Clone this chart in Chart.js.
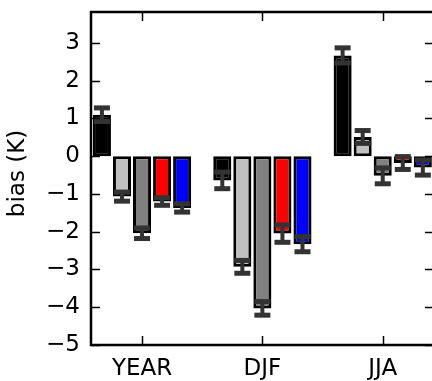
<!DOCTYPE html>
<html>
<head>
<meta charset="utf-8">
<script src="https://cdn.jsdelivr.net/npm/chart.js@4/dist/chart.umd.min.js"></script>
<style>
  html, body { margin: 0; padding: 0; overflow: hidden; background: #fff; }
  #wrap { width: 444px; height: 381px; position: relative; }
</style>
</head>
<body>
<div id="wrap"><canvas id="c"></canvas></div>
<script>
// Seasonal temperature bias for five experiments
const categories = ['YEAR', 'DJF', 'JJA'];
const yTicks = [-5, -4, -3, -2, -1, 0, 1, 2, 3];
const yLabel = 'bias (K)';

const expA = [1.10, -0.64, 2.67];
const expAErr = [0.18, 0.22, 0.20];
const expB = [-1.07, -2.93, 0.51];
const expBErr = [0.12, 0.17, 0.17];
const expC = [-2.04, -4.03, -0.52];
const expCErr = [0.14, 0.18, 0.21];
const expD = [-1.20, -2.05, -0.18];
const expDErr = [0.10, 0.23, 0.17];
const expE = [-1.37, -2.33, -0.30];
const expEErr = [0.11, 0.20, 0.20];

const series = [
  { name: 'A', values: expA, err: expAErr, color: '#000000' },
  { name: 'B', values: expB, err: expBErr, color: '#c0c0c0' },
  { name: 'C', values: expC, err: expCErr, color: '#808080' },
  { name: 'D', values: expD, err: expDErr, color: '#ff0000' },
  { name: 'E', values: expE, err: expEErr, color: '#0000ff' }
];

const FONT = 'DejaVu Sans';

// Box frame, inward ticks on all four sides, error bars and the axis label
const framePlugin = {
  id: 'frame',
  afterDatasetsDraw(chart) {
    const ctx = chart.ctx;
    const ys = chart.scales.y;
    ctx.save();
    ctx.fillStyle = '#333333';
    ctx.strokeStyle = '#333333';
    series.forEach((s, d) => {
      const meta = chart.getDatasetMeta(d);
      meta.data.forEach((bar, i) => {
        const x = bar.x;
        const hi = ys.getPixelForValue(s.values[i] + s.err[i]);
        const lo = ys.getPixelForValue(s.values[i] - s.err[i]);
        ctx.lineWidth = 4;
        ctx.beginPath();
        ctx.moveTo(x, hi);
        ctx.lineTo(x, lo);
        ctx.stroke();
        ctx.fillRect(x - 8, hi - 2.5, 16, 5);
        ctx.fillRect(x - 8, lo - 2.5, 16, 5);
      });
    });
    ctx.restore();
  },
  afterDraw(chart) {
    const ctx = chart.ctx;
    const a = chart.chartArea;
    const xs = chart.scales.x, ys = chart.scales.y;
    const tl = 9;
    ctx.save();
    ctx.strokeStyle = '#000';
    ctx.lineWidth = 1.5;
    ys.ticks.forEach(t => {
      const y = Math.round(ys.getPixelForValue(t.value)) + 0.5;
      ctx.beginPath();
      ctx.moveTo(a.left, y); ctx.lineTo(a.left + tl, y);
      ctx.moveTo(a.right, y); ctx.lineTo(a.right - tl, y);
      ctx.stroke();
    });
    xs.ticks.forEach(t => {
      const x = Math.round(xs.getPixelForValue(t.value)) + 0.5;
      ctx.beginPath();
      ctx.moveTo(x, a.bottom); ctx.lineTo(x, a.bottom - tl);
      ctx.moveTo(x, a.top); ctx.lineTo(x, a.top + tl);
      ctx.stroke();
    });
    ctx.lineWidth = 2.5;
    ctx.strokeRect(a.left, a.top, a.right - a.left, a.bottom - a.top);

    // rotated y-axis label
    ctx.translate(18, (a.top + a.bottom) / 2 - 5);
    ctx.rotate(-Math.PI / 2);
    ctx.fillStyle = '#000';
    ctx.font = '23px "' + FONT + '"';
    ctx.textAlign = 'center';
    ctx.textBaseline = 'middle';
    ctx.fillText(yLabel, 0, 0);
    ctx.restore();
  }
};

new Chart(document.getElementById('c'), {
  type: 'bar',
  data: {
    datasets: series.map(s => ({
      label: s.name,
      data: categories.map((c, i) => ({ x: i, y: s.values[i] })),
      backgroundColor: s.color,
      borderColor: '#000000',
      borderWidth: 3,
      borderSkipped: false,
      categoryPercentage: 0.833,
      barPercentage: 0.9
    }))
  },
  options: {
    responsive: true,
    maintainAspectRatio: false,
    animation: false,
    layout: { padding: { left: 0, top: 12, right: 10, bottom: 0 } },
    plugins: { legend: { display: false }, tooltip: { enabled: false } },
    scales: {
      x: {
        type: 'linear',
        min: -0.424,
        max: 2.426,
        offset: false,
        grid: { display: false, drawTicks: false },
        border: { display: false },
        afterBuildTicks: s => { s.ticks = categories.map((c, i) => ({ value: i })); },
        afterFit: s => { s.height = 36; s.paddingLeft = 0; s.paddingRight = 0; },
        ticks: {
          color: '#000',
          padding: 10,
          font: { family: FONT, size: 23 },
          maxRotation: 0,
          callback: v => categories[v]
        }
      },
      y: {
        min: -5,
        max: 3.82,
        grid: { display: false, drawTicks: false },
        border: { display: false },
        afterBuildTicks: s => { s.ticks = yTicks.map(v => ({ value: v })); },
        afterFit: s => { s.width = 91; s.paddingTop = 0; s.paddingBottom = 0; },
        ticks: {
          color: '#000',
          padding: 11,
          font: { family: FONT, size: 23 },
          callback: v => (v < 0 ? '\u2212' + Math.abs(v) : String(v))
        }
      }
    }
  },
  plugins: [framePlugin]
});
</script>
</body>
</html>
